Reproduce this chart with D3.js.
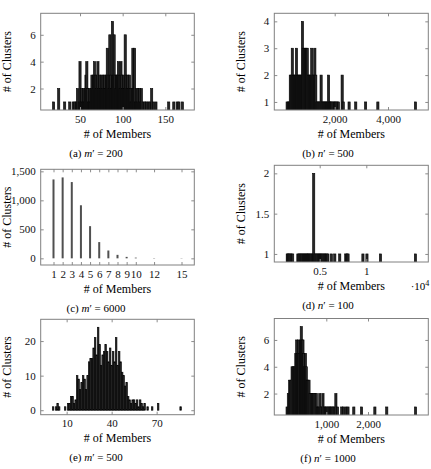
<!DOCTYPE html>
<html>
<head>
<meta charset="utf-8">
<script src="https://cdn.jsdelivr.net/npm/d3@7"></script>
<style>
  body { margin: 0; background: #fff; }
  svg { display: block; }
  svg text { font-family: "Liberation Serif", "Times New Roman", "DejaVu Serif", serif; }
</style>
</head>
<body>
<div id="chart"></div>
<script>
const width = 431;
const height = 469;
const serif = '"Liberation Serif", "Times New Roman", "DejaVu Serif", serif';

// (a) m' = 200 : cluster size -> number of clusters
const membersA = [19, 25, 32, 38, 42, 44, 46, 47, 49,
  50, 51, 52, 53, 54, 55, 56, 57, 58, 59,
  60, 61, 62, 63, 64, 65, 66, 67, 68, 69,
  70, 71, 72, 73, 74, 75, 76, 77, 78, 79,
  80, 81, 82, 83, 84, 85, 86, 87, 88, 89,
  90, 91, 92, 93, 94, 95, 96, 97, 98, 99,
  100, 101, 102, 103, 104, 105, 106, 107, 108, 109,
  110, 111, 112, 113, 114, 115, 116, 117, 118, 119,
  120, 121, 122,
  124, 126, 128, 130, 132, 134, 136, 139,
  154, 160, 164, 166, 170];
const clustersA = [1, 2, 1, 1, 1, 1, 1, 2, 1,
  4, 1, 2, 1, 2, 1, 2, 3, 4, 2,
  1, 2, 1, 2, 3, 2, 3, 4, 3, 2,
  3, 4, 2, 3, 2, 3, 2, 3, 2, 3,
  2, 3, 5, 3, 2, 6, 3, 2, 7, 3,
  6, 3, 2, 3, 3, 4, 3, 2, 4, 3,
  2, 3, 2, 6, 3, 2, 3, 2, 3, 2,
  1, 2, 5, 2, 5, 1, 2, 1, 2, 1,
  2, 1, 2,
  1, 1, 1, 1, 1, 2, 1, 1,
  1, 1, 1, 1, 1];

// (b) n' = 500
const membersB = [216, 260, 300, 335, 370, 410, 450, 490, 530, 565,
  600, 640, 680, 720, 760, 790, 820, 860, 900, 940,
  970, 1010, 1050, 1090, 1140, 1180, 1220, 1255, 1290, 1330,
  1370, 1410, 1450, 1490, 1530, 1570, 1610, 1650, 1690, 1730,
  1770, 1810, 1850, 1890, 1940, 2000, 2040, 2090, 2140, 2280,
  2320, 2540, 2790, 3160, 3620, 5030];
const clustersB = [1, 1, 1, 2, 2, 3, 2, 2, 2, 3,
  2, 2, 2, 2, 2, 4, 3, 3, 3, 3,
  3, 2, 2, 2, 3, 2, 2, 3, 2, 1,
  1, 1, 1, 2, 1, 1, 1, 1, 1, 1,
  2, 1, 1, 1, 1, 1, 1, 1, 1, 2,
  1, 1, 1, 1, 1, 1];

// (c) m' = 6000
const membersC = [1, 2, 3, 4, 5, 6, 7, 8, 9, 10, 12, 15];
const clustersC = [1360, 1395, 1315, 915, 555, 280, 135, 60, 25, 12, 5, 4];

// (d) n' = 100
const membersD = [1520, 1600, 1700, 1820, 1950, 2100, 2660, 2780, 2900, 3010,
  3120, 3250, 3360, 3480, 3600, 3700, 3820, 3930, 4050, 4180,
  4290, 4356, 4480, 4600, 4720, 4850, 4970, 5100, 5220, 5350,
  5480, 5600, 5750, 5880, 6250, 6620, 7150, 7800, 7920, 8040,
  9640, 10070, 11520, 15270];
const clustersD = [1, 1, 1, 1, 1, 1, 1, 1, 1, 1,
  1, 1, 1, 1, 1, 1, 1, 1, 1, 1,
  1, 2, 1, 1, 1, 1, 1, 1, 1, 1,
  1, 1, 1, 1, 1, 1, 1, 1, 1, 1,
  1, 1, 1, 1];

// (e) m' = 500
const membersE = [1, 3, 4, 5, 9, 11, 12, 13, 14, 15,
  16, 17, 18, 19, 20, 21, 22, 23, 24, 25,
  26, 27, 28, 29, 30, 31, 32, 33, 34, 35,
  36, 37, 38, 39, 40, 41, 42, 43, 44, 45,
  46, 47, 48, 49, 50, 51, 52, 53, 54, 55,
  56, 57, 58, 59, 60, 61, 62, 64, 67, 71, 86];
const clustersE = [1, 1, 2, 1, 1, 2, 2, 4, 4, 2,
  3, 10, 9, 6, 8, 10, 9, 6, 10, 14,
  15, 15, 18, 21, 16, 24, 19, 13, 16, 17,
  19, 17, 14, 18, 13, 17, 14, 21, 13, 17,
  14, 11, 10, 7, 8, 4, 3, 2, 3, 3,
  2, 3, 1, 3, 2, 1, 2, 1, 1, 2, 1];

// (f) n' = 1000
const membersF = [60, 90, 120, 150, 180, 210, 240, 270, 290, 310,
  330, 350, 380, 400, 420, 440, 460, 480, 500, 520,
  540, 560, 585, 610, 640, 670, 700, 730, 760, 790,
  820, 845, 870, 900, 920, 950, 980, 1010, 1040, 1070,
  1100, 1130, 1160, 1190, 1230, 1270, 1370, 1410, 1470, 1520,
  1660, 1845, 2165, 2450, 3140];
const clustersF = [1, 2, 3, 3, 4, 4, 4, 5, 6, 5,
  6, 5, 6, 7, 6, 6, 5, 4, 5, 4,
  3, 3, 3, 2, 2, 2, 2, 2, 2, 1,
  1, 2, 1, 1, 2, 1, 1, 1, 1, 1,
  1, 1, 1, 1, 2, 1, 1, 1, 1, 1,
  1, 1, 1, 1, 1];

// ticks
const xTicksA = [50, 100, 150];
const yTicksA = [2, 4, 6];
const xTicksB = [2000, 4000];
const yTicksB = [1, 2, 3, 4];
const xTicksC = membersC;
const yTicksC = [0, 500, 1000, 1500];
const xTicksD = [5000, 10000];
const xTickLabelsD = ['0.5', '1'];
const yTicksD = [1, 1.5, 2];
const xTicksE = [10, 40, 70];
const yTicksE = [0, 10, 20];
const xTicksF = [1000, 2000];
const yTicksF = [2, 4, 6];

const captions = [
  ['(a) ', 'm', '200'], ['(b) ', 'n', '500'],
  ['(c) ', 'm', '6000'], ['(d) ', 'n', '100'],
  ['(e) ', 'm', '500'], ['(f) ', 'n', '1000'],
];

const comma = d3.format(',');

const panels = [
  { id: 'a', left: 40.7, right: 194.3, top: 13.3, bottom: 110, xDomain: [3.9, 184], yDomain: [0.4, 7.6],
    members: membersA, clusters: clustersA, xTicks: xTicksA, yTicks: yTicksA, barW: 2.2, capX: 96 },
  { id: 'b', left: 274.3, right: 428.3, top: 13.3, bottom: 110, xDomain: [-266, 5512], yDomain: [0.7, 4.3],
    members: membersB, clusters: clustersB, xTicks: xTicksB, yTicks: yTicksB, xFormat: comma, barW: 2.2, capX: 328 },
  { id: 'c', left: 40.7, right: 194.3, top: 169.3, bottom: 265, xDomain: [-0.4, 16.4], yDomain: [-115, 1535],
    members: membersC, clusters: clustersC, xTicks: xTicksC, yTicks: yTicksC, yFormat: comma, barW: 2,
    capX: 96, fill: '#505050', stroke: 'none' },
  { id: 'd', left: 274.3, right: 428.3, top: 165.3, bottom: 262, xDomain: [129, 16652], yDomain: [0.9, 2.1],
    members: membersD, clusters: clustersD, xTicks: xTicksD, yTicks: yTicksD,
    xFormat: (d, i) => xTickLabelsD[i], barW: 2.2, capX: 328, scaled: true },
  { id: 'e', left: 40.7, right: 194.3, top: 319.3, bottom: 414.7, xDomain: [-7.3, 95.1], yDomain: [-1.3, 26.3],
    members: membersE, clusters: clustersE, xTicks: xTicksE, yTicks: yTicksE, barW: 1.6, capX: 96 },
  { id: 'f', left: 274.3, right: 428.3, top: 318.5, bottom: 415, xDomain: [-247, 3446], yDomain: [0.4, 7.6],
    members: membersF, clusters: clustersF, xTicks: xTicksF, yTicks: yTicksF, xFormat: comma, barW: 2.2, capX: 328 },
];

const svg = d3.select('#chart')
  .append('svg')
  .attr('width', width)
  .attr('height', height)
  .attr('font-family', serif);

function styleAxis(sel, showText) {
  sel.select('.domain').remove();
  sel.attr('font-family', serif).attr('font-size', 11);
  sel.selectAll('line').attr('stroke', '#8c8c8c');
  sel.selectAll('text').attr('fill', '#111');
  if (!showText) sel.selectAll('text').remove();
}

function drawPanel(p, idx) {
  const x = d3.scaleLinear().domain(p.xDomain).range([p.left, p.right]);
  const y = d3.scaleLinear().domain(p.yDomain).range([p.bottom, p.top]);
  const g = svg.append('g').attr('class', 'panel-' + p.id);

  g.append('clipPath').attr('id', 'clip-' + p.id)
    .append('rect')
    .attr('x', p.left).attr('y', p.top)
    .attr('width', p.right - p.left).attr('height', p.bottom - p.top);

  const rows = d3.zip(p.members, p.clusters);
  g.append('g')
    .attr('clip-path', `url(#clip-${p.id})`)
    .selectAll('rect')
    .data(rows)
    .join('rect')
    .attr('x', d => x(d[0]) - p.barW / 2)
    .attr('width', p.barW)
    .attr('y', d => y(d[1]))
    .attr('height', d => y(0) - y(d[1]))
    .attr('fill', p.fill || '#262626')
    .attr('stroke', p.stroke || '#000')
    .attr('stroke-width', 0.6);

  // axes with inward ticks on all sides
  g.append('g').attr('transform', `translate(0,${p.bottom})`)
    .call(d3.axisBottom(x).tickValues(p.xTicks).tickSize(-3).tickPadding(5)
      .tickFormat(p.xFormat || (d => d)))
    .call(s => styleAxis(s, true));
  g.append('g').attr('transform', `translate(0,${p.top})`)
    .call(d3.axisTop(x).tickValues(p.xTicks).tickSize(-3))
    .call(s => styleAxis(s, false));
  g.append('g').attr('transform', `translate(${p.left},0)`)
    .call(d3.axisLeft(y).tickValues(p.yTicks).tickSize(-3).tickPadding(5)
      .tickFormat(p.yFormat || (d => d)))
    .call(s => styleAxis(s, true));
  g.append('g').attr('transform', `translate(${p.right},0)`)
    .call(d3.axisRight(y).tickValues(p.yTicks).tickSize(-3))
    .call(s => styleAxis(s, false));

  g.append('rect')
    .attr('x', p.left).attr('y', p.top)
    .attr('width', p.right - p.left).attr('height', p.bottom - p.top)
    .attr('fill', 'none')
    .attr('stroke', '#808080')
    .attr('stroke-width', 1);

  // axis labels
  g.append('text')
    .attr('x', (p.left + p.right) / 2)
    .attr('y', p.bottom + 27.5)
    .attr('text-anchor', 'middle')
    .attr('font-size', 12)
    .text('# of Members');

  g.append('text')
    .attr('transform', `translate(${p.left - 33.5},${(p.top + p.bottom) / 2}) rotate(-90)`)
    .attr('text-anchor', 'middle')
    .attr('dominant-baseline', 'central')
    .attr('font-size', 12)
    .text('# of Clusters');

  if (p.scaled) {
    const t = g.append('text')
      .attr('x', p.right + 1)
      .attr('y', p.bottom + 28)
      .attr('text-anchor', 'end')
      .attr('font-size', 11);
    t.append('tspan').text('\u00b710');
    t.append('tspan').attr('dy', -4).attr('font-size', 8).text('4');
  }

  // caption
  const c = captions[idx];
  const cap = g.append('text')
    .attr('x', p.capX)
    .attr('y', p.bottom + 46.5)
    .attr('text-anchor', 'middle')
    .attr('font-size', 11);
  cap.append('tspan').text(c[0]);
  cap.append('tspan').attr('font-style', 'italic').text(c[1]);
  cap.append('tspan').text('\u2032 = ' + c[2]);
}

panels.forEach(drawPanel);
</script>
</body>
</html>
